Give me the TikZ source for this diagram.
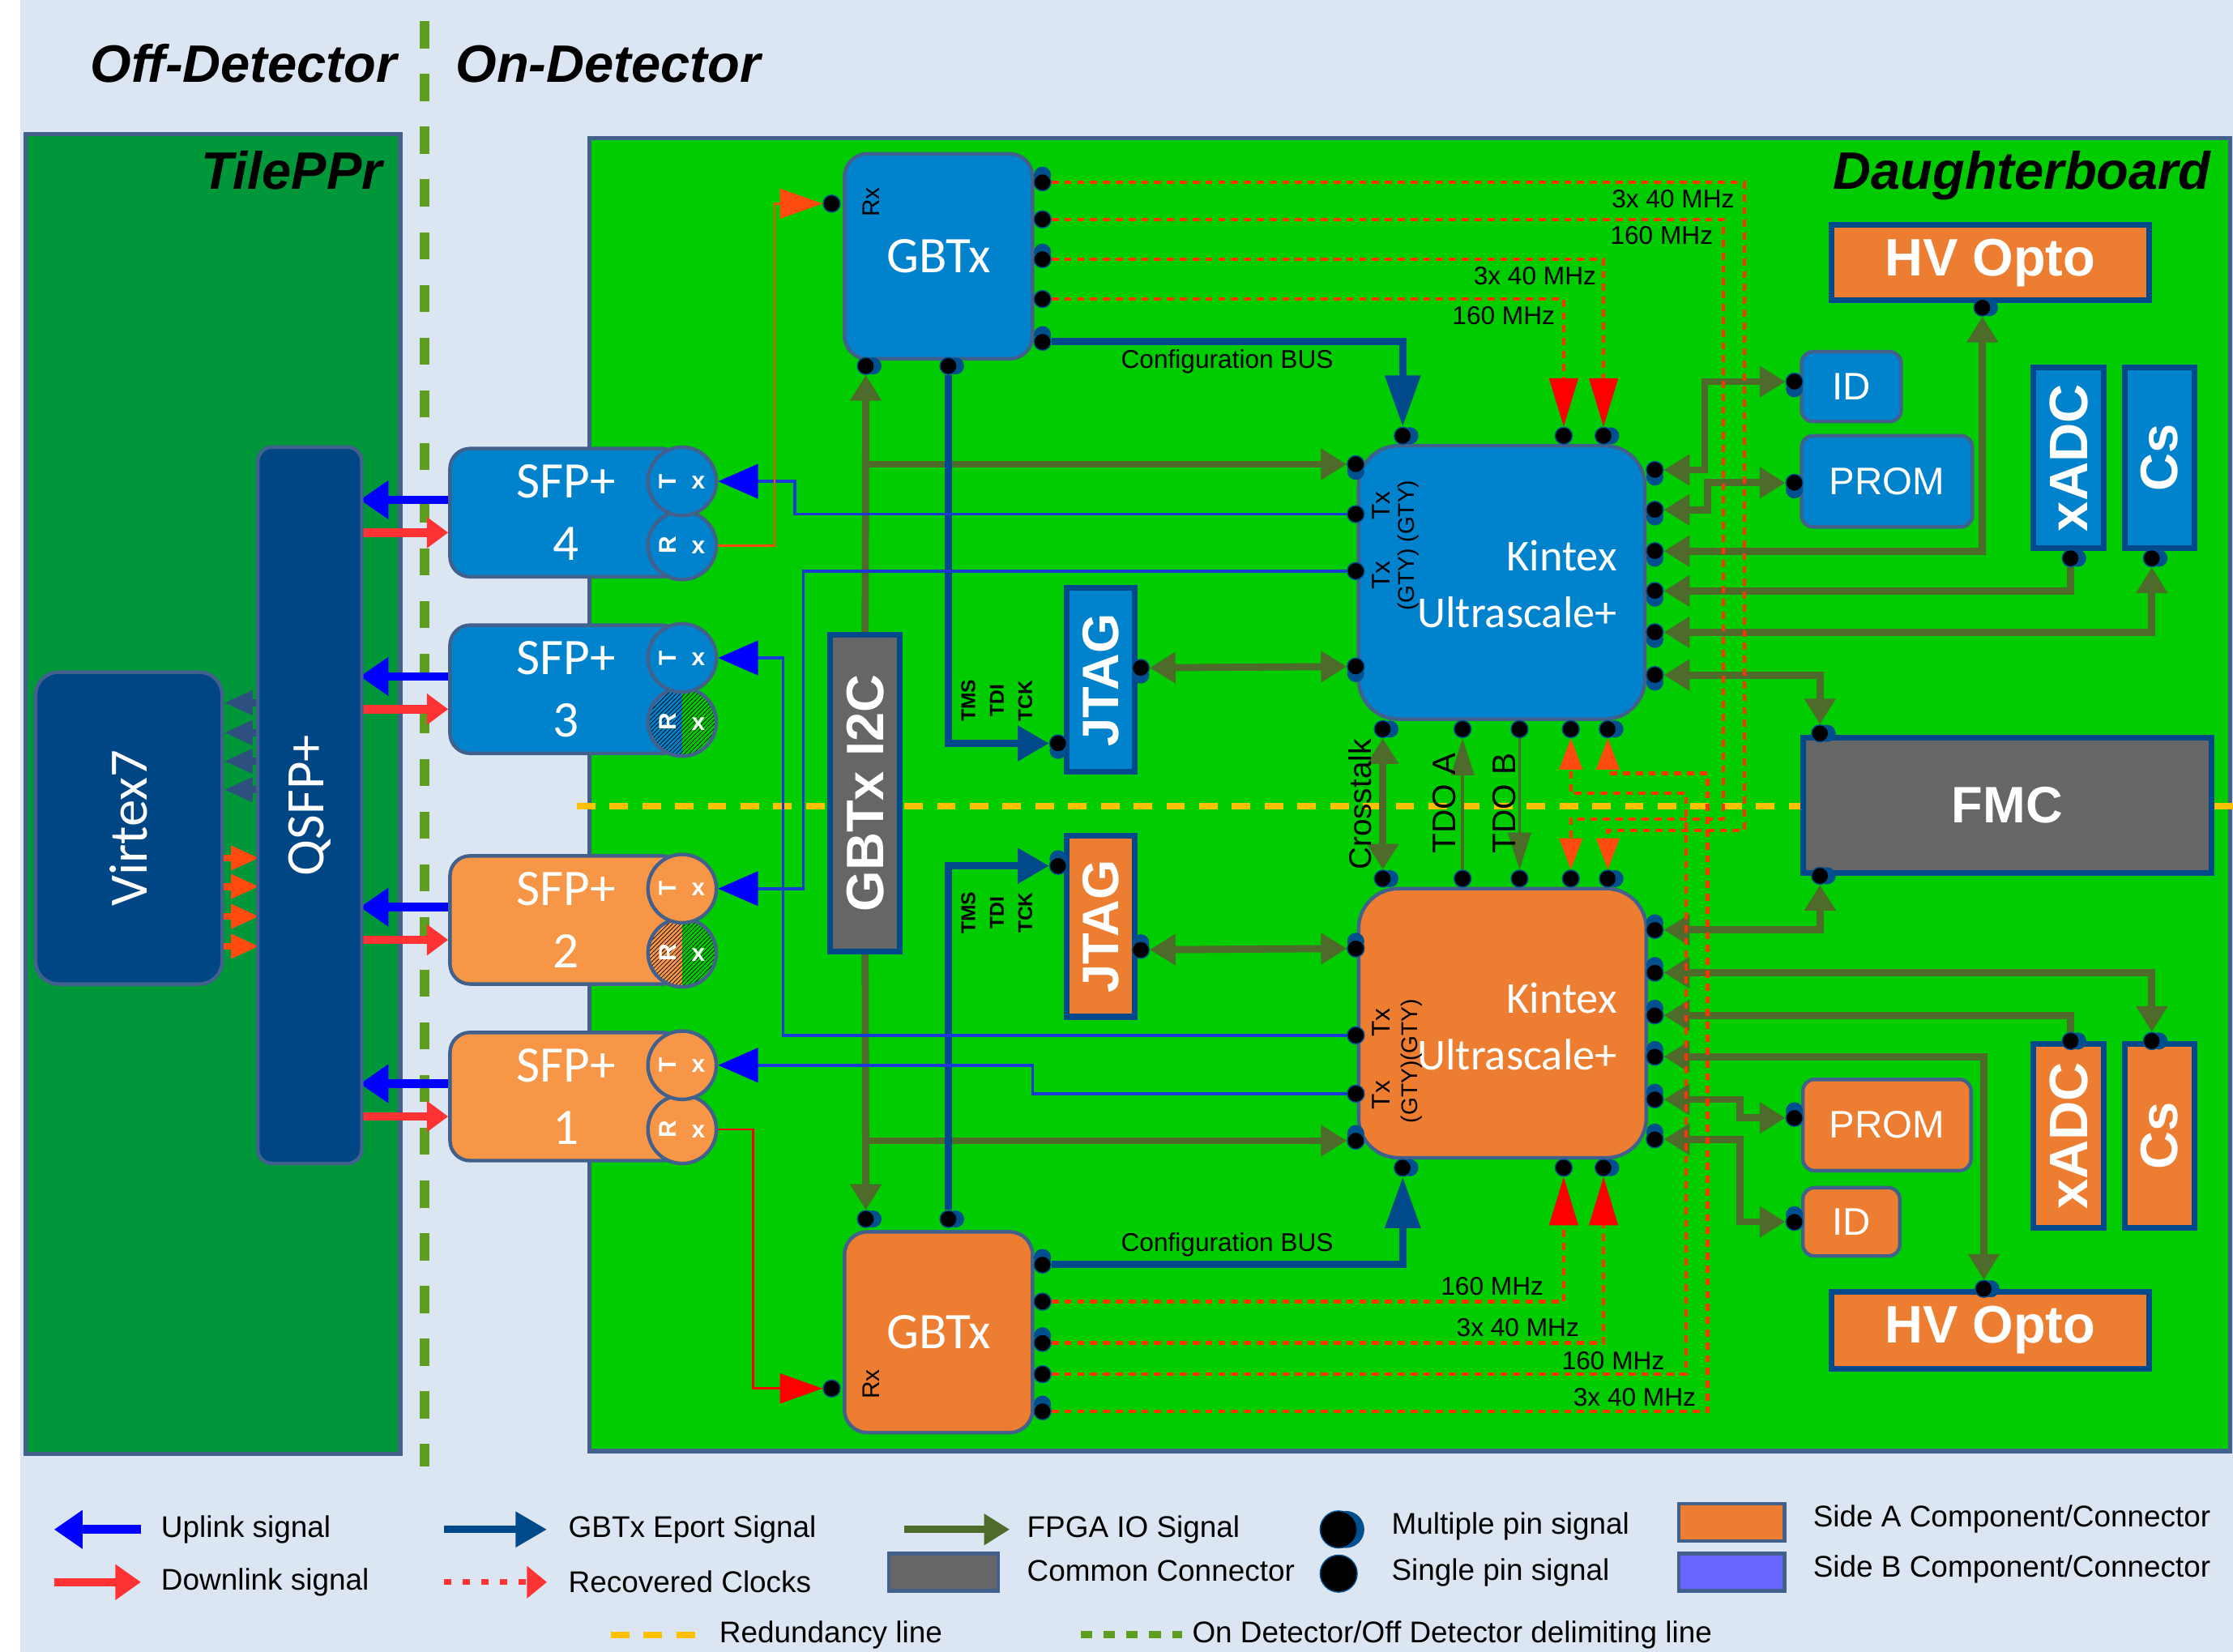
\documentclass[tikz,border=0pt]{standalone}
\usepackage{fontspec}
\setmainfont{Liberation Sans}
\newfontfamily\calfont{Carlito}
\usetikzlibrary{arrows.meta,calc,shadows,patterns}
\definecolor{bgblue}{HTML}{DCE6F2}
\definecolor{tileg}{HTML}{00963A}
\definecolor{boardg}{HTML}{00CC00}
\definecolor{frame}{HTML}{41618C}
\definecolor{deepblue}{HTML}{004A8C}
\definecolor{boxblue}{HTML}{0082CC}
\definecolor{navy}{HTML}{004584}
\definecolor{sidea}{HTML}{ED7D31}
\definecolor{sfporange}{HTML}{F79646}
\definecolor{conngray}{HTML}{666666}
\definecolor{ioolive}{HTML}{4E6B2C}
\definecolor{upblue}{HTML}{0000FF}
\definecolor{upline}{HTML}{1A3AD8}
\definecolor{downred}{HTML}{FF3333}
\definecolor{clkred}{HTML}{FF3300}
\definecolor{tipred}{HTML}{FF0000}
\definecolor{xred}{HTML}{FF4A10}
\definecolor{redund}{HTML}{FFC000}
\definecolor{delim}{HTML}{5E9E1E}
\definecolor{sideb}{HTML}{6666FF}
\definecolor{pinblue}{HTML}{00508F}
\definecolor{slatearr}{HTML}{2F4F7F}
\pgfdeclarelayer{back}
\pgfdeclarelayer{lines}
\pgfsetlayers{back,lines,main}

\begin{document}
\begin{tikzpicture}[x=1pt,y=-1pt,
 panel/.style={draw=frame,line width=3pt,inner sep=0pt},
 compbox/.style={draw=frame,line width=2.5pt,rounded corners=12pt,inner sep=0pt,text=white,align=center},
 bbox/.style={compbox,fill=boxblue},
 abox/.style={compbox,fill=sidea},
 hardbox/.style={draw=deepblue,line width=4pt,inner sep=0pt,text=white,font=\bfseries\fontsize{36}{40}\selectfont},
 sfpbody/.style={compbox,rounded corners=14pt,minimum width=163pt,minimum height=90pt,font=\calfont\fontsize{36}{44}\selectfont},
 sfpcirc/.style={circle,draw=frame,line width=2.5pt,minimum size=48pt,inner sep=0pt,text=white,font=\bfseries\fontsize{17}{17}\selectfont},
 pinS/.style={circle,fill=black,draw=pinblue,line width=0.8pt,inner sep=0pt,minimum size=12pt},
 pinR/.style={pinS,copy shadow={shadow xshift=5pt,shadow yshift=0pt,fill=pinblue,draw=none}},
 pinD/.style={pinS,copy shadow={shadow xshift=0pt,shadow yshift=-5pt,fill=pinblue,draw=none}},
 pinU/.style={pinS,copy shadow={shadow xshift=0pt,shadow yshift=5pt,fill=pinblue,draw=none}},
 headline/.style={font=\bfseries\itshape\fontsize{37}{44}\selectfont},
 kintext/.style={text=white,align=right,font=\calfont\fontsize{31}{40}\selectfont},
 rxlab/.style={rotate=90,font=\fontsize{17}{17}\selectfont,inner sep=0pt},
 txlab/.style={rotate=90,font=\fontsize{18}{18}\selectfont,inner sep=0pt},
 siglab/.style={rotate=90,align=center,font=\bfseries\fontsize{14}{20}\selectfont,inner sep=0pt},
 io/.style={ioolive,line width=5pt,>={Triangle[length=18pt,width=21pt]}},
 tdo/.style={ioolive,line width=2pt,>={Triangle[length=26pt,width=16pt]}},
 eport/.style={deepblue,line width=5pt,>={Triangle[length=22pt,width=24pt]}},
 uplink/.style={upline,line width=2pt,-{Triangle[length=28pt,width=24pt,color=upblue]}},
 rxfeed/.style={line width=1.5pt,-{Triangle[length=30pt,width=21pt]}},
 clk/.style={clkred,line width=2.4pt,dash pattern=on 5pt off 4pt,-{Triangle[length=34pt,width=20pt,color=tipred]}},
 xclk/.style={clkred,line width=2.4pt,dash pattern=on 5pt off 4pt,-{Triangle[length=22pt,width=16pt,color=xred]}},
 upfat/.style={upblue,line width=6pt,-{Triangle[length=20pt,width=26pt]}},
 downfat/.style={downred,line width=6pt,-{Triangle[length=15pt,width=21pt]}},
 v2q/.style={slatearr,line width=5pt,-{Triangle[length=20pt,width=16pt]}},
 q2v/.style={xred,line width=5pt,-{Triangle[length=20pt,width=16pt]}},
 clklab/.style={text=black,font=\fontsize{18}{20}\selectfont,inner sep=1pt},
 leg/.style={font=\fontsize{21}{24}\selectfont,anchor=west,inner sep=0pt},
 legbox/.style={draw=frame,line width=2.5pt,minimum width=74pt,minimum height=26pt,inner sep=0pt},
 delimline/.style={delim,line width=7pt,dash pattern=on 19pt off 18pt},
 redline/.style={redund,line width=4.5pt,dash pattern=on 13pt off 10pt}]
\useasboundingbox (0,0) rectangle (1568,1160);

\begin{pgfonlayer}{back}
\fill[white] (0,0) rectangle (1568,1160);
\fill[bgblue] (14,0) rectangle (1568,1160);
\node[panel,fill=tileg,minimum width=263pt,minimum height=927pt] (tileppr) at (149.5,557.5) {};
\node[panel,fill=boardg,minimum width=1152pt,minimum height=922pt] (board) at (990,558) {};
\draw[delimline] (298,15) -- (298,1030);
\draw[redline] (405,566) -- (1568,566);
\end{pgfonlayer}

% headings
\node[headline,anchor=base] (offdet) at (171,58) {Off-Detector};
\node[headline,anchor=base] (ondet) at (427,58) {On-Detector};
\node[headline,anchor=base east] (tilelab) at (272,133) {TilePPr};
\node[headline,anchor=base east] (boardlab) at (1556,133) {Daughterboard};

% off detector
\node[compbox,fill=navy,rounded corners=16pt,minimum width=131pt,minimum height=219pt,font=\calfont\fontsize{38}{40}\selectfont] (virtex) at (90.5,581.5) {\rotatebox{90}{Virtex7}};
\node[compbox,fill=navy,rounded corners=10pt,minimum width=73pt,minimum height=503pt,font=\calfont\fontsize{38}{40}\selectfont] (qsfp) at (217.5,565.5) {\rotatebox{90}{QSFP+}};

% SFP+ modules
\node[sfpbody,fill=boxblue] (sfp4) at (397.5,360) {SFP+\\4};
\node[sfpbody,fill=boxblue] (sfp3) at (397.5,484) {SFP+\\3};
\node[sfpbody,fill=sfporange] (sfp2) at (397.5,646) {SFP+\\2};
\node[sfpbody,fill=sfporange] (sfp1) at (397.5,770) {SFP+\\1};
\node[sfpcirc,fill=boxblue] (sfp4R) at (479,383) {\rotatebox{90}{R}\hspace{11pt}x};
\node[sfpcirc,fill=boxblue] (sfp4T) at (479,338) {\rotatebox{90}{T}\hspace{11pt}x};
\begin{scope}
\clip (479,507) circle[radius=24pt];
\fill[boxblue] (455,483) rectangle (479,531);
\fill[boardg] (479,483) rectangle (503,531);
\fill[pattern=north east lines] (455,483) rectangle (503,531);
\end{scope}
\node[sfpcirc] (sfp3R) at (479,507) {\rotatebox{90}{R}\hspace{11pt}x};
\node[sfpcirc,fill=boxblue] (sfp3T) at (479,462) {\rotatebox{90}{T}\hspace{11pt}x};
\begin{scope}
\clip (479,669) circle[radius=24pt];
\fill[sfporange] (455,645) rectangle (479,693);
\fill[boardg] (479,645) rectangle (503,693);
\fill[pattern=north east lines] (455,645) rectangle (503,693);
\end{scope}
\node[sfpcirc] (sfp2R) at (479,669) {\rotatebox{90}{R}\hspace{11pt}x};
\node[sfpcirc,fill=sfporange] (sfp2T) at (479,624) {\rotatebox{90}{T}\hspace{11pt}x};
\node[sfpcirc,fill=sfporange] (sfp1R) at (479,793) {\rotatebox{90}{R}\hspace{11pt}x};
\node[sfpcirc,fill=sfporange] (sfp1T) at (479,748) {\rotatebox{90}{T}\hspace{11pt}x};

% GBTx chips
\node[bbox,rounded corners=16pt,minimum width=132pt,minimum height=144pt,font=\calfont\fontsize{36}{40}\selectfont] (gbtxB) at (659,180) {GBTx};
\node[abox,rounded corners=16pt,minimum width=132pt,minimum height=141pt,font=\calfont\fontsize{36}{40}\selectfont] (gbtxA) at (659,935.5) {GBTx};
\node[rxlab] (gbtxBrxl) at (612,142) {Rx};
\node[rxlab] (gbtxArxl) at (612,972) {Rx};
\node[hardbox,fill=conngray,minimum width=49pt,minimum height=222pt,font=\bfseries\fontsize{37}{40}\selectfont] (i2c) at (607.5,557) {\rotatebox{90}{GBTx I2C}};

% JTAG
\node[hardbox,fill=boxblue,minimum width=48pt,minimum height=129pt] (jtagB) at (773,477.5) {\rotatebox{90}{JTAG}};
\node[hardbox,fill=sidea,minimum width=48pt,minimum height=127pt] (jtagA) at (773,650.5) {\rotatebox{90}{JTAG}};
\node[siglab] (jtagBsig) at (700,492) {TMS\\TDI\\TCK};
\node[siglab] (jtagAsig) at (700,641) {TMS\\TDI\\TCK};

% FPGAs
\node[bbox,rounded corners=28pt,minimum width=201pt,minimum height=192pt] (kinB) at (1054.5,409) {};
\node[kintext,anchor=east] (kinBlab) at (1139,410) {Kintex\\Ultrascale+};
\node[abox,rounded corners=28pt,minimum width=202pt,minimum height=189pt] (kinA) at (1055,718.5) {};
\node[kintext,anchor=east] (kinAlab) at (1139,721) {Kintex\\Ultrascale+};
\node[txlab] (kinBtx1) at (970,355) {Tx};
\node[txlab] (kinBtx2) at (970,404) {Tx};
\node[txlab] (kinAtx1) at (970,718) {Tx};
\node[txlab] (kinAtx2) at (970,769) {Tx};
\node[txlab,font=\fontsize{16}{16}\selectfont] (kinBgty) at (989,383) {(GTY) (GTY)};
\node[txlab,font=\fontsize{16}{16}\selectfont] (kinAgty) at (991,745) {(GTY)(GTY)};
\node[rotate=90,font=\fontsize{22}{22}\selectfont,inner sep=0pt] (xtalk) at (955,565) {Crosstalk};
\node[rotate=90,font=\fontsize{23}{23}\selectfont,inner sep=0pt] (tdoa) at (1014,564) {TDO A};
\node[rotate=90,font=\fontsize{23}{23}\selectfont,inner sep=0pt] (tdob) at (1056,564) {TDO B};

% peripherals
\node[hardbox,fill=sidea,minimum width=223pt,minimum height=53pt,font=\bfseries\fontsize{37}{40}\selectfont] (hvB) at (1397.5,184.5) {HV Opto};
\node[hardbox,fill=sidea,minimum width=223pt,minimum height=54pt,font=\bfseries\fontsize{37}{40}\selectfont] (hvA) at (1397.5,934) {HV Opto};
\node[bbox,rounded corners=8pt,minimum width=70pt,minimum height=49pt,font=\fontsize{27}{30}\selectfont] (idB) at (1300,271.5) {ID};
\node[bbox,rounded corners=8pt,minimum width=120pt,minimum height=64pt,font=\fontsize{27}{30}\selectfont] (promB) at (1325,338) {PROM};
\node[abox,rounded corners=8pt,minimum width=118pt,minimum height=64pt,font=\fontsize{27}{30}\selectfont] (promA) at (1325,790) {PROM};
\node[abox,rounded corners=8pt,minimum width=68pt,minimum height=48pt,font=\fontsize{27}{30}\selectfont] (idA) at (1300,858) {ID};
\node[hardbox,fill=boxblue,minimum width=49pt,minimum height=127pt,font=\bfseries\fontsize{38}{40}\selectfont] (xadcB) at (1452.5,321.5) {\rotatebox{90}{xADC}};
\node[hardbox,fill=boxblue,minimum width=49pt,minimum height=127pt,font=\bfseries\fontsize{37}{40}\selectfont] (csB) at (1516.5,321.5) {\rotatebox{90}{Cs}};
\node[hardbox,fill=sidea,minimum width=49pt,minimum height=129pt,font=\bfseries\fontsize{38}{40}\selectfont] (xadcA) at (1452.5,797.5) {\rotatebox{90}{xADC}};
\node[hardbox,fill=sidea,minimum width=49pt,minimum height=129pt,font=\bfseries\fontsize{37}{40}\selectfont] (csA) at (1516.5,797.5) {\rotatebox{90}{Cs}};
\node[hardbox,fill=conngray,minimum width=287pt,minimum height=95pt] (fmc) at (1409.5,565.5) {FMC};

% pins
\node[pinS] (gbtxBrx) at (584,143) {};
\node[pinU] (gbtxBo1) at (732,128) {}; \node[pinS] (gbtxBo2) at (732,154) {};
\node[pinU] (gbtxBo3) at (732,182) {}; \node[pinS] (gbtxBo4) at (732,210) {};
\node[pinU] (gbtxBo5) at (732,240) {};
\node[pinR] (gbtxBb1) at (608,257) {}; \node[pinR] (gbtxBb2) at (666,257) {};
\node[pinS] (gbtxArx) at (584,975) {};
\node[pinU] (gbtxAo1) at (732,888) {}; \node[pinS] (gbtxAo2) at (732,914) {};
\node[pinU] (gbtxAo3) at (732,943) {}; \node[pinS] (gbtxAo4) at (732,965) {};
\node[pinU] (gbtxAo5) at (732,991) {};
\node[pinR] (gbtxAt1) at (608,856) {}; \node[pinR] (gbtxAt2) at (666,856) {};
\node[pinR] (kinBt1) at (985,306) {}; \node[pinS] (kinBt2) at (1098,306) {}; \node[pinR] (kinBt3) at (1126,306) {};
\node[pinD] (kinBl1) at (952,326) {}; \node[pinS] (kinBl2) at (952,361) {};
\node[pinS] (kinBl3) at (952,401) {}; \node[pinD] (kinBl4) at (952,468) {};
\node[pinD] (kinBr1) at (1162,330) {}; \node[pinD] (kinBr2) at (1162,358) {};
\node[pinD] (kinBr3) at (1162,387) {}; \node[pinD] (kinBr4) at (1162,415) {};
\node[pinD] (kinBr5) at (1162,444) {}; \node[pinD] (kinBr6) at (1162,474) {};
\node[pinR] (kinBb1) at (971,512) {}; \node[pinS] (kinBb2) at (1027,512) {};
\node[pinS] (kinBb3) at (1067,512) {}; \node[pinS] (kinBb4) at (1103,512) {};
\node[pinR] (kinBb5) at (1129,512) {};
\node[pinR] (kinAt1) at (971,617) {}; \node[pinS] (kinAt2) at (1027,617) {};
\node[pinS] (kinAt3) at (1067,617) {}; \node[pinS] (kinAt4) at (1103,617) {};
\node[pinR] (kinAt5) at (1129,617) {};
\node[pinU] (kinAl1) at (952,666) {}; \node[pinS] (kinAl2) at (952,727) {};
\node[pinS] (kinAl3) at (952,768) {}; \node[pinU] (kinAl4) at (952,801) {};
\node[pinU] (kinAr1) at (1162,653) {}; \node[pinU] (kinAr2) at (1162,683) {};
\node[pinU] (kinAr3) at (1162,713) {}; \node[pinU] (kinAr4) at (1162,742) {};
\node[pinU] (kinAr5) at (1162,772) {}; \node[pinU] (kinAr6) at (1162,800) {};
\node[pinR] (kinAb1) at (985,820) {}; \node[pinS] (kinAb2) at (1098,820) {}; \node[pinR] (kinAb3) at (1126,820) {};
\node[pinD] (jtagBp1) at (743,522) {}; \node[pinD] (jtagBp2) at (801,469) {};
\node[pinU] (jtagAp1) at (743,608) {}; \node[pinU] (jtagAp2) at (801,667) {};
\node[pinD] (idBp) at (1260,268) {}; \node[pinD] (promBp) at (1260,339) {};
\node[pinR] (hvBp) at (1392,216) {};
\node[pinR] (xadcBp) at (1454,392) {}; \node[pinR] (csBp) at (1511,392) {};
\node[pinR] (fmcp1) at (1278,515) {}; \node[pinR] (fmcp2) at (1278,615) {};
\node[pinU] (promAp) at (1260,785) {}; \node[pinU] (idAp) at (1260,858) {};
\node[pinR] (hvAp) at (1393,905) {};
\node[pinR] (xadcAp) at (1454,731) {}; \node[pinR] (csAp) at (1511,731) {};

% routing points
\coordinate (rt4) at (558,338); \coordinate (rt2) at (564,624);
\coordinate (rt3) at (550,462); \coordinate (rt1) at (725,748);
\coordinate (rr4) at (544,143); \coordinate (rr1) at (529,975);
\coordinate (cA) at (1225,583); \coordinate (cB) at (1210,575);
\coordinate (cC) at (1184,557); \coordinate (cD) at (1199,543);

\begin{pgfonlayer}{lines}
% optical links
\foreach \s in {sfp1,sfp2,sfp3,sfp4} {
 \draw[upfat] ($(\s.west)+(0,-9)$) -- ($(\s.west)+(-62,-9)$);
 \draw[downfat] ($(\s.west)+(-62,14)$) -- ($(\s.west)+(0,14)$);
}
\foreach \d in {-88,-67,-47,-27} \draw[v2q] ($(virtex.east)+(25,\d)$) -- ($(virtex.east)+(0,\d)$);
\foreach \d in {21,41,62,83} \draw[q2v] ($(virtex.east)+(0,\d)$) -- ($(virtex.east)+(25,\d)$);

% FPGA IO
\draw[io,->] (i2c.north) -- (gbtxBb1); \draw[io,->] (i2c.south) -- (gbtxAt1);
\draw[io,->] (i2c.north |- kinBl1) -- (kinBl1); \draw[io,->] (i2c.south |- kinAl4) -- (kinAl4);
\draw[io,<->] (jtagBp2) -- (kinBl4); \draw[io,<->] (jtagAp2) -- (kinAl1);
\draw[io,<->] (kinBb1) -- (kinAt1);
\draw[tdo,->] (kinAt2) -- (kinBb2); \draw[tdo,->] (kinBb3) -- (kinAt3);
\draw[io,<->] (kinBr1) -- ++(35,0) |- (idBp);
\draw[io,<->] (kinBr2) -- ++(37,0) |- (promBp);
\draw[io,<->] (kinBr3) -| (hvBp);
\draw[io,<-] (kinBr4) -| (xadcBp);
\draw[io,<->] (kinBr5) -| (csBp);
\draw[io,<->] (kinBr6) -| (fmcp1);
\draw[io,<->] (kinAr1) -| (fmcp2);
\draw[io,<->] (kinAr2) -| (csAp);
\draw[io,<-] (kinAr3) -| (xadcAp);
\draw[io,<->] (kinAr4) -| (hvAp);
\draw[io,<->] (kinAr5) -- ++(60,0) |- (promAp);
\draw[io,<->] (kinAr6) -- ++(60,0) |- (idAp);

% GBTx e-ports
\draw[eport,->] (gbtxBb2) |- (jtagBp1); \draw[eport,->] (gbtxAt2) |- (jtagAp1);
\draw[eport,-{Triangle[length=36pt,width=24pt]}] (gbtxBo5) -| (kinBt1) node[clklab,pos=0.25,below=2pt] {Configuration BUS};
\draw[eport,-{Triangle[length=36pt,width=24pt]}] (gbtxAo1) -| (kinAb1) node[clklab,pos=0.25,above=2pt] {Configuration BUS};

% uplink / downlink
\draw[uplink] (kinBl2) -| (rt4) -- (sfp4T);
\draw[uplink] (kinBl3) -| (rt2) -- (sfp2T);
\draw[uplink] (kinAl2) -| (rt3) -- (sfp3T);
\draw[uplink] (kinAl3) -| (rt1) -- (sfp1T);
\draw[rxfeed,xred] (sfp4R) -| (rr4) -- (gbtxBrx);
\draw[rxfeed,tipred] (sfp1R) -| (rr1) -- (gbtxArx);

% recovered clocks
\draw[clk] (gbtxBo3) -| (kinBt3) node[clklab,pos=0.5,anchor=north east,xshift=-3pt,yshift=-3pt] {3x 40 MHz};
\draw[clk] (gbtxBo4) -| (kinBt2) node[clklab,pos=0.5,anchor=north east,xshift=-4pt,yshift=-3pt] {160 MHz};
\draw[xclk] (gbtxBo1) -| (cA) node[clklab,pos=0.5,anchor=north east,xshift=-5pt,yshift=-3pt] {3x 40 MHz} -| (kinAt5);
\draw[xclk] (gbtxBo2) -| (cB) node[clklab,pos=0.5,anchor=north east,xshift=-5pt,yshift=-3pt] {160 MHz} -| (kinAt4);
\draw[clk] (gbtxAo2) -| (kinAb2) node[clklab,pos=0.5,anchor=south east,xshift=-12pt,yshift=2pt] {160 MHz};
\draw[clk] (gbtxAo3) -| (kinAb3) node[clklab,pos=0.5,anchor=south east,xshift=-15pt,yshift=2pt] {3x 40 MHz};
\draw[xclk] (gbtxAo4) -| (cC) node[clklab,pos=0.5,anchor=south east,xshift=-13pt,yshift=1pt] {160 MHz} -| (kinBb4);
\draw[xclk] (gbtxAo5) -| (cD) node[clklab,pos=0.5,anchor=south east,xshift=-6pt,yshift=1pt] {3x 40 MHz} -| (kinBb5);
\end{pgfonlayer}

% legend
\node[leg] (lgUp) at (113,1074) {Uplink signal};
\draw[upfat] ($(lgUp.west)+(-14,0)$) -- ($(lgUp.west)+(-75,0)$);
\node[leg] (lgDown) at (113,1111) {Downlink signal};
\draw[downred,line width=6pt,-{Triangle[length=18pt,width=24pt]}] ($(lgDown.west)+(-75,0)$) -- ($(lgDown.west)+(-14,0)$);
\node[leg] (lgEport) at (399,1074) {GBTx Eport Signal};
\draw[eport,->] ($(lgEport.west)+(-87,0)$) -- ($(lgEport.west)+(-15,0)$);
\node[leg] (lgClk) at (399,1111) {Recovered Clocks};
\draw[downred,line width=4pt,dash pattern=on 5pt off 8pt,-{Triangle[length=14pt,width=22pt]}] ($(lgClk.west)+(-87,0)$) -- ($(lgClk.west)+(-15,0)$);
\node[leg] (lgIO) at (721,1074) {FPGA IO Signal};
\draw[io,->] ($(lgIO.west)+(-86,0)$) -- ($(lgIO.west)+(-12,0)$);
\node[leg] (lgCom) at (721,1103) {Common Connector};
\node[legbox,fill=conngray,minimum width=77pt] (lgComBox) at (662.5,1104) {};
\node[pinR,minimum size=26pt] (lgMulti) at (940,1074) {};
\node[leg] (lgMultiT) at (977,1072) {Multiple pin signal};
\node[pinS,minimum size=26pt] (lgSingle) at (940,1105) {};
\node[leg] (lgSingleT) at (977,1104) {Single pin signal};
\node[legbox,fill=sidea] (lgA) at (1216,1069) {};
\node[leg] (lgAT) at (1273,1067) {Side A Component/Connector};
\node[legbox,fill=sideb] (lgB) at (1216,1104) {};
\node[leg] (lgBT) at (1273,1102) {Side B Component/Connector};
\node[leg] (lgRed) at (505,1148) {Redundancy line};
\draw[redline] ($(lgRed.west)+(-76,0)$) -- ($(lgRed.west)+(-10,0)$);
\node[leg] (lgDel) at (837,1148) {On Detector/Off Detector delimiting line};
\draw[delimline,line width=5pt,dash pattern=on 8pt off 8pt] ($(lgDel.west)+(-78,0)$) -- ($(lgDel.west)+(-7,0)$);
\end{tikzpicture}
\end{document}
